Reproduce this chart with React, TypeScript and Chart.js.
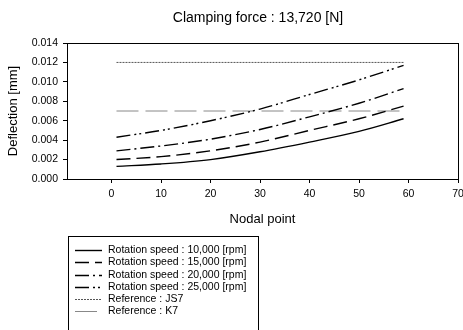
import { useEffect, useRef } from "react";
import { Chart, registerables } from "chart.js";

Chart.register(...registerables);

const FONT = "'Liberation Sans', Arial, Helvetica, sans-serif";

const chartTitle = "Clamping force : 13,720 [N]";
const xTitle = "Nodal point";
const yTitle = "Deflection [mm]";

const nodes = [1, 10, 20, 30, 40, 50, 59];
const speed10000 = [0.0013, 0.00155, 0.002, 0.0028, 0.0038, 0.0049, 0.0062];
const speed15000 = [0.002, 0.0023, 0.0029, 0.0038, 0.005, 0.0062, 0.0075];
const speed20000 = [0.0029, 0.0034, 0.0041, 0.0051, 0.0064, 0.0078, 0.0093];
const speed25000 = [0.0043, 0.005, 0.006, 0.0072, 0.0087, 0.0102, 0.0117];

const refNodes = [1, 59];
const js7 = [0.012, 0.012];
const k7 = [0.007, 0.007];

const seriesLabels = [
  "Rotation speed : 10,000 [rpm]",
  "Rotation speed : 15,000 [rpm]",
  "Rotation speed : 20,000 [rpm]",
  "Rotation speed : 25,000 [rpm]",
  "Reference : JS7",
  "Reference : K7",
];

const xTicks = [0, 10, 20, 30, 40, 50, 60, 70];
const yTicks = [0, 0.002, 0.004, 0.006, 0.008, 0.01, 0.012, 0.014];

const pts = (xs: number[], ys: number[]) => xs.map((x, i) => ({ x, y: ys[i] }));

const framePlugin = {
  id: "frameAndLegend",
  afterDraw(chart: any) {
    const { ctx, chartArea } = chart;
    ctx.save();
    ctx.strokeStyle = "#000";
    ctx.lineWidth = 1;
    ctx.setLineDash([]);
    ctx.strokeRect(
      Math.round(chartArea.left) + 0.5,
      Math.round(chartArea.top) + 0.5,
      Math.round(chartArea.right - chartArea.left),
      Math.round(chartArea.bottom - chartArea.top)
    );
    ctx.fillStyle = "#000";
    ctx.font = `14px ${FONT}`;
    ctx.textAlign = "center";
    ctx.textBaseline = "middle";
    ctx.fillText(chartTitle, 258, 18);
    ctx.lineWidth = 1;
    ctx.strokeStyle = "#000";
    ctx.strokeRect(68.5, 236.5, 190, 110);
    ctx.font = `10.5px ${FONT}`;
    ctx.textAlign = "left";
    chart.data.datasets.forEach((ds: any, i: number) => {
      const y = Math.round(250 + i * 12.25) + 0.5;
      ctx.strokeStyle = ds.borderColor;
      ctx.lineWidth = ds.borderWidth;
      ctx.setLineDash(ds.borderDash || []);
      ctx.beginPath();
      ctx.moveTo(75, y);
      ctx.lineTo(102, y);
      ctx.stroke();
      ctx.setLineDash([]);
      ctx.fillStyle = "#000";
      ctx.fillText(ds.label, 108, y);
    });
    ctx.restore();
  },
};

export default function App() {
  const ref = useRef<HTMLCanvasElement | null>(null);

  useEffect(() => {
    if (!ref.current) return;
    const common = {
      fill: false,
      pointRadius: 0,
      pointHoverRadius: 0,
      borderColor: "#000",
      cubicInterpolationMode: "monotone" as const,
    };
    const chart = new Chart(ref.current, {
      type: "line",
      data: {
        datasets: [
          { ...common, label: seriesLabels[0], data: pts(nodes, speed10000), borderWidth: 1.4, borderDash: [] },
          { ...common, label: seriesLabels[1], data: pts(nodes, speed15000), borderWidth: 1.4, borderDash: [14, 6] },
          { ...common, label: seriesLabels[2], data: pts(nodes, speed20000), borderWidth: 1.4, borderDash: [14, 4, 2, 4] },
          { ...common, label: seriesLabels[3], data: pts(nodes, speed25000), borderWidth: 1.4, borderDash: [14, 4, 2, 3, 2, 4] },
          { ...common, label: seriesLabels[4], data: pts(refNodes, js7), borderWidth: 1, borderColor: "#555", borderDash: [2, 1] },
          { ...common, label: seriesLabels[5], data: pts(refNodes, k7), borderWidth: 1, borderColor: "#888", borderDash: [22, 7] },
        ],
      },
      options: {
        animation: false,
        responsive: true,
        maintainAspectRatio: false,
        layout: { padding: { top: 43, left: 0, right: 5, bottom: 98 } },
        plugins: {
          legend: { display: false },
          title: { display: false },
          tooltip: { enabled: false },
        },
        scales: {
          x: {
            type: "linear",
            min: -9,
            max: 70,
            afterBuildTicks: (scale: any) => {
              scale.ticks = xTicks.map((v) => ({ value: v }));
            },
            afterFit: (scale: any) => {
              scale.height = 53;
              scale.paddingRight = 0;
              scale.paddingLeft = 0;
            },
            ticks: {
              color: "#000",
              font: { family: FONT, size: 10.5 },
              padding: 5,
              maxRotation: 0,
              autoSkip: false,
            },
            grid: { display: true, drawOnChartArea: false, drawTicks: true, tickLength: 4, color: "#000" },
            border: { display: true, color: "#000" },
            title: {
              display: true,
              text: xTitle,
              color: "#000",
              font: { family: FONT, size: 13 },
              padding: { top: 0, bottom: 5 },
            },
          },
          y: {
            type: "linear",
            min: 0,
            max: 0.014,
            afterBuildTicks: (scale: any) => {
              scale.ticks = yTicks.map((v) => ({ value: v }));
            },
            afterFit: (scale: any) => {
              scale.width = 67;
              scale.paddingTop = 0;
              scale.paddingBottom = 0;
            },
            ticks: {
              color: "#000",
              font: { family: FONT, size: 10.5 },
              padding: 5,
              callback: (v: any) => Number(v).toFixed(3),
            },
            grid: { display: true, drawOnChartArea: false, drawTicks: true, tickLength: 4, color: "#000" },
            border: { display: true, color: "#000" },
            title: {
              display: true,
              text: yTitle,
              color: "#000",
              font: { family: FONT, size: 13 },
              padding: { top: 6, bottom: 0 },
            },
          },
        },
      },
      plugins: [framePlugin],
    });
    return () => chart.destroy();
  }, []);

  return (
    <div style={{ position: "fixed", left: 0, top: 0, width: 463, height: 330, background: "#fff" }}>
      <canvas ref={ref} />
    </div>
  );
}
